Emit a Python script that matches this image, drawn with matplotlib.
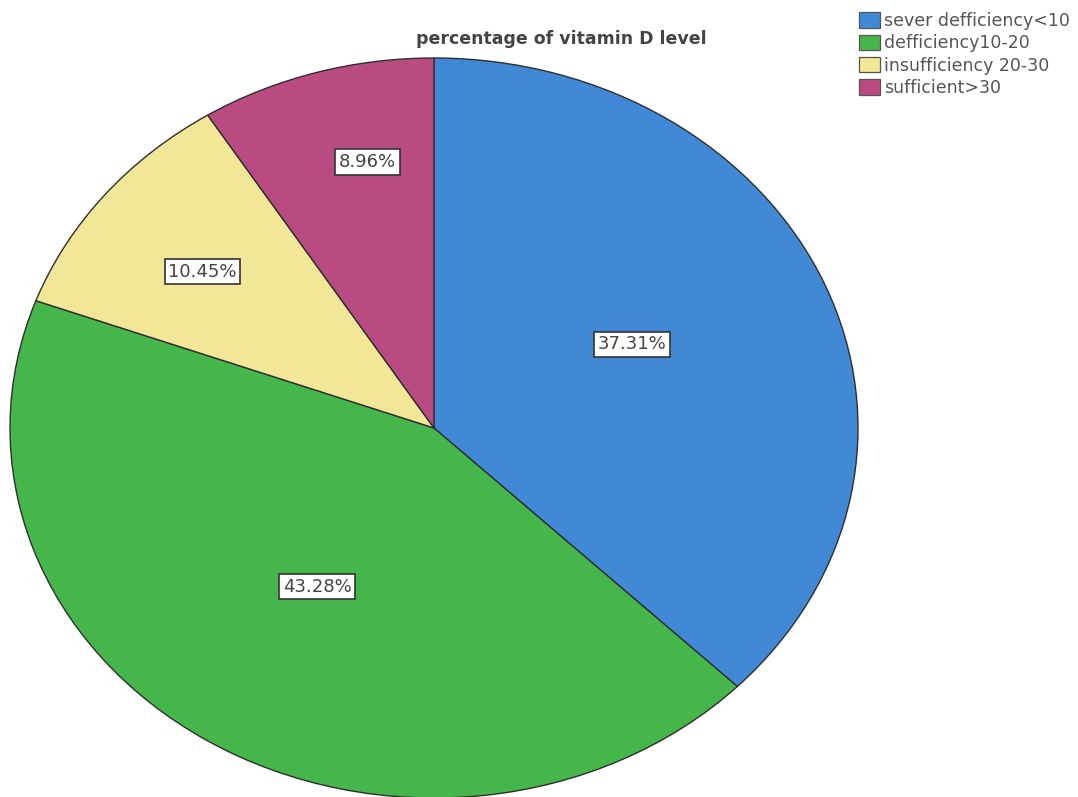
import matplotlib
matplotlib.use("Agg")
import matplotlib.pyplot as plt
from matplotlib.patches import Patch
import numpy as np

plt.rcParams['font.family'] = ['DejaVu Sans']

# Vitamin D level groups and their share of patients (%)
categories = ["sever defficiency<10", "defficiency10-20",
              "insufficiency 20-30", "sufficient>30"]
percentages = [37.31, 43.28, 10.45, 8.96]
colors = ["#4189D6", "#45B64A", "#F2E697", "#B94B82"]
# placement of each percentage label: fraction of radius and angular nudge (deg)
label_radii = [0.52, 0.51, 0.69, 0.736]
label_nudge = [3.0, -0.5, 1.2, -3.8]

fig = plt.figure(figsize=(10.78, 7.97), dpi=100)
W, H = 1078, 797
# elliptical pie: axes stretched wider than tall
cx, cy, rx, ry = 434, 428, 424, 370
ax = fig.add_axes([(cx - rx) / W, (H - cy - ry) / H, 2 * rx / W, 2 * ry / H])

wedges, _ = ax.pie(percentages, colors=colors, startangle=90, counterclock=False,
                   wedgeprops=dict(edgecolor="#2e2e2e", linewidth=1.0))
ax.set_aspect('auto')
ax.set_xlim(-1, 1)
ax.set_ylim(-1, 1)
ax.axis('off')

for w, pct, r, d in zip(wedges, percentages, label_radii, label_nudge):
    mid = np.deg2rad((w.theta1 + w.theta2) / 2 + d)
    ax.text(r * np.cos(mid), r * np.sin(mid), f"{pct:.2f}%",
            ha='center', va='center', fontsize=13, color="#444444",
            bbox=dict(boxstyle='square,pad=0.2', facecolor='white',
                      edgecolor='#333333', linewidth=1.2))

fig.text(561 / W, 1 - 39 / H, "percentage of vitamin D level",
         ha='center', va='center', fontsize=12.5, fontweight='bold', color="#444444")

handles = [Patch(facecolor=c, edgecolor="#555555", linewidth=0.9) for c in colors]
fig.legend(handles, categories, loc='upper left',
           bbox_to_anchor=(859 / W, 1 - 12 / H), frameon=False,
           fontsize=12.5, labelcolor="#555555",
           handlelength=1.2, handleheight=0.98, handletextpad=0.25,
           labelspacing=0.25, borderaxespad=0, borderpad=0)

fig.savefig("out.png", dpi=100)
